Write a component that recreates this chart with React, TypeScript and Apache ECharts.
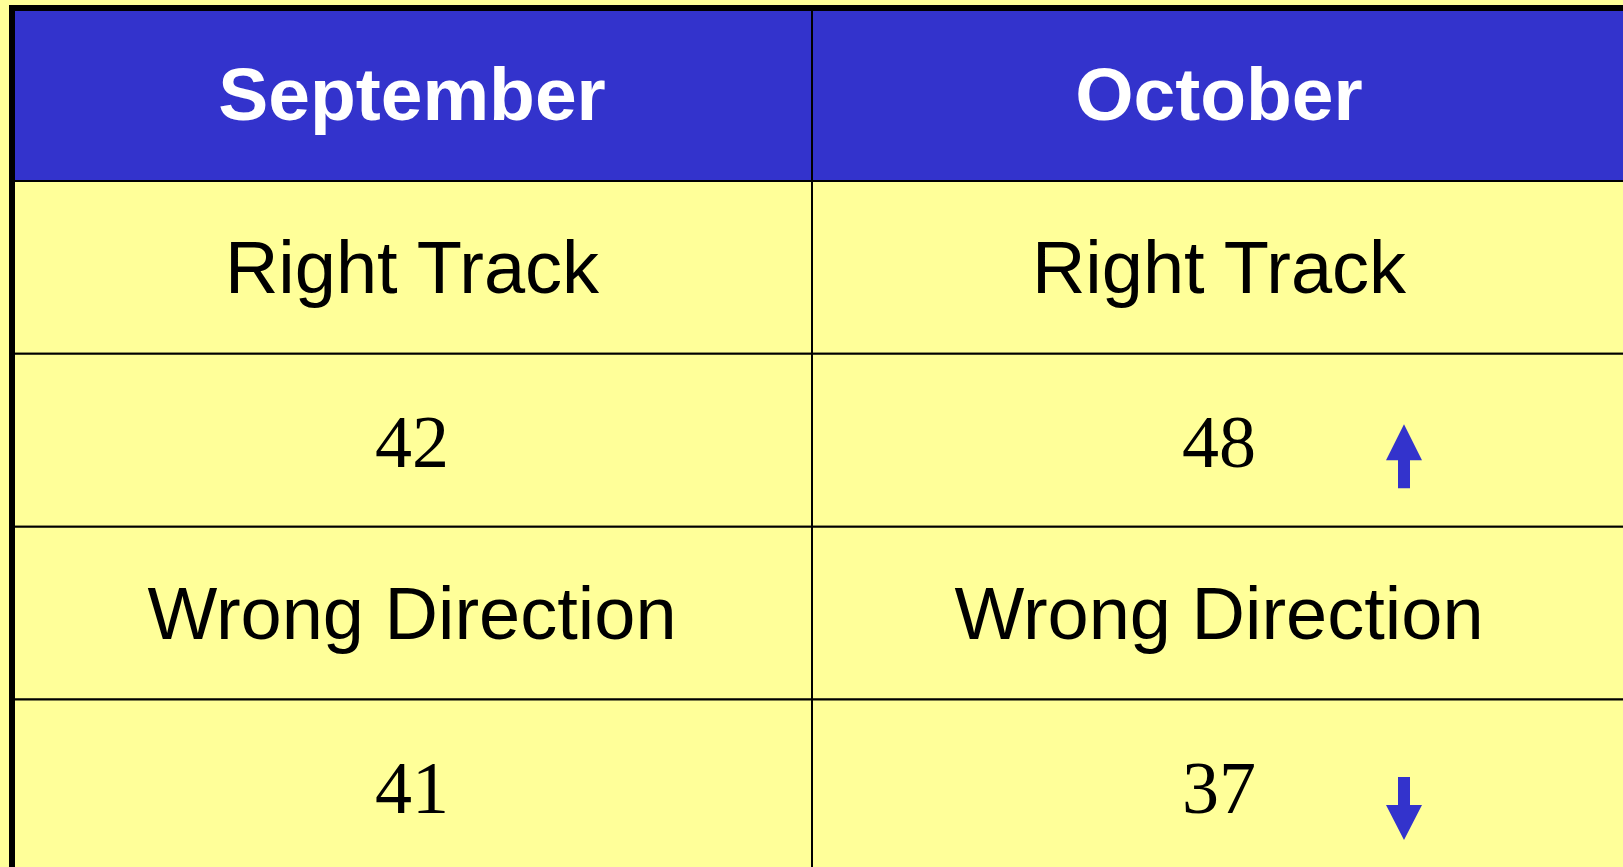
import React, { useEffect, useRef } from "react";
import * as echarts from "echarts";

// ---- data ----
const months = ["September", "October"];
const questions = ["Right Track", "Wrong Direction"];
const septemberValues = [42, 41];
const octoberValues = [48, 37];
const tableRows = ["header", "Right Track label", "Right Track value", "Wrong Direction label", "Wrong Direction value"];

const BLUE = "#3333CC";
const YELLOW = "#FFFF99";
const SANS = "'Liberation Sans', Arial, Helvetica, sans-serif";
const SERIF = "'Liberation Serif', 'Times New Roman', Times, serif";

type Cell = { col: number; row: number; text: string; kind: "header" | "label" | "value"; arrow: "up" | "down" | null };

function buildCells(): Cell[] {
  const cells: Cell[] = [];
  const valuesByMonth = [septemberValues, octoberValues];
  months.forEach((m, c) => {
    cells.push({ col: c, row: 0, text: m, kind: "header", arrow: null });
    questions.forEach((q, qi) => {
      cells.push({ col: c, row: 1 + qi * 2, text: q, kind: "label", arrow: null });
      const v = valuesByMonth[c][qi];
      let arrow: "up" | "down" | null = null;
      if (c > 0) {
        const prev = valuesByMonth[c - 1][qi];
        arrow = v > prev ? "up" : v < prev ? "down" : null;
      }
      cells.push({ col: c, row: 2 + qi * 2, text: String(v), kind: "value", arrow });
    });
  });
  return cells;
}

export default function App() {
  const ref = useRef<HTMLDivElement>(null);
  useEffect(() => {
    if (!ref.current) return;
    const chart = echarts.init(ref.current, null, { renderer: "svg" });
    const cells = buildCells();
    const lastCol = months.length - 1;

    const renderItem = (params: any, api: any) => {
      const cell = cells[params.dataIndex];
      const [cx, cy] = api.coord([cell.col, cell.row]);
      const [w, h] = api.size([1, 1]);
      const x0 = cx - w / 2;
      const y0 = cy - h / 2;
      let x1 = cx + w / 2;
      if (cell.col === lastCol) x1 = Math.max(x1, api.getWidth() + 3);
      const tx = (x0 + x1) / 2;
      const isHeader = cell.kind === "header";
      const ty = cell.kind === "value" ? cy + 2 : cy;
      const children: any[] = [
        {
          type: "rect",
          shape: { x: x0, y: y0, width: x1 - x0, height: h },
          style: { fill: isHeader ? BLUE : YELLOW, stroke: "#000", lineWidth: 2 },
        },
        {
          type: "text",
          style: {
            text: cell.text,
            x: tx,
            y: ty,
            align: "center",
            verticalAlign: "middle",
            fill: isHeader ? "#FFFFFF" : "#000000",
            font:
              cell.kind === "header"
                ? `bold 75px ${SANS}`
                : cell.kind === "label"
                ? `74px ${SANS}`
                : `74px ${SERIF}`,
          },
        },
      ];
      if (cell.arrow) {
        const ax = tx + 185;
        if (cell.arrow === "up") {
          const t = cy - 16;
          children.push({
            type: "polygon",
            shape: {
              points: [
                [ax, t],
                [ax + 18, t + 36],
                [ax + 6, t + 36],
                [ax + 6, t + 64],
                [ax - 6, t + 64],
                [ax - 6, t + 36],
                [ax - 18, t + 36],
              ],
            },
            style: { fill: BLUE },
          });
        } else {
          const t = cy - 9;
          children.push({
            type: "polygon",
            shape: {
              points: [
                [ax - 6, t],
                [ax + 6, t],
                [ax + 6, t + 28],
                [ax + 18, t + 28],
                [ax, t + 63],
                [ax - 18, t + 28],
                [ax - 6, t + 28],
              ],
            },
            style: { fill: BLUE },
          });
        }
      }
      if (cell.col === 0) {
        children.push({
          type: "line",
          shape: { x1: x0, y1: y0 - 3, x2: x0, y2: y0 + h },
          style: { stroke: "#000", lineWidth: 6 },
        });
      }
      if (cell.row === 0) {
        children.push({
          type: "line",
          shape: { x1: x0 - 3, y1: y0, x2: x1, y2: y0 },
          style: { stroke: "#000", lineWidth: 6 },
        });
      }
      return { type: "group", children };
    };

    chart.setOption({
      animation: false,
      backgroundColor: YELLOW,
      grid: { left: 12, top: 8, width: 1600, height: 5 * 172.9, outerBoundsMode: "none", containLabel: false },
      xAxis: { type: "category", data: months, show: false },
      yAxis: { type: "category", data: tableRows, inverse: true, show: false },
      series: [
        {
          type: "custom",
          renderItem,
          data: cells.map((c) => [c.col, c.row]),
          silent: true,
        },
      ],
    });
    const onResize = () => chart.resize();
    window.addEventListener("resize", onResize);
    return () => {
      window.removeEventListener("resize", onResize);
      chart.dispose();
    };
  }, []);
  return (
    <div
      ref={ref}
      style={{ position: "fixed", left: 0, top: 0, width: "100vw", height: "100vh", background: YELLOW }}
    />
  );
}
